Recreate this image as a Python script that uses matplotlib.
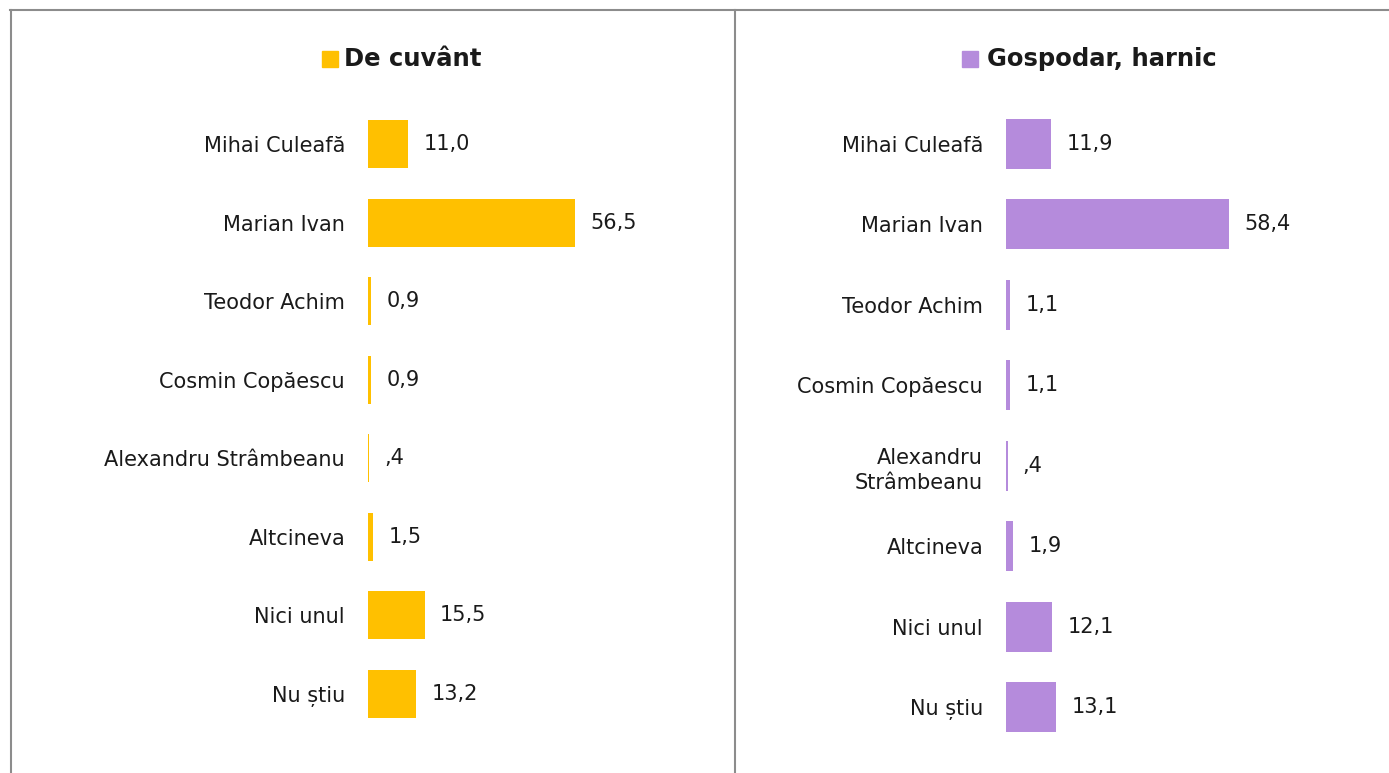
import matplotlib.pyplot as plt
from matplotlib.lines import Line2D
from matplotlib.patches import Rectangle

# ---- data ----
candidates_left = [
    "Mihai Culeafă", "Marian Ivan", "Teodor Achim", "Cosmin Copăescu",
    "Alexandru Strâmbeanu", "Altcineva", "Nici unul", "Nu știu",
]
candidates_right = [
    "Mihai Culeafă", "Marian Ivan", "Teodor Achim", "Cosmin Copăescu",
    "Alexandru\nStrâmbeanu", "Altcineva", "Nici unul", "Nu știu",
]
de_cuvant = [11.0, 56.5, 0.9, 0.9, 0.4, 1.5, 15.5, 13.2]
de_cuvant_labels = ["11,0", "56,5", "0,9", "0,9", ",4", "1,5", "15,5", "13,2"]
gospodar = [11.9, 58.4, 1.1, 1.1, 0.4, 1.9, 12.1, 13.1]
gospodar_labels = ["11,9", "58,4", "1,1", "1,1", ",4", "1,9", "12,1", "13,1"]

W, H = 1389, 773
TEXT = "#1a1a1a"
BORDER = "#8c8c8c"

plt.rcParams["font.family"] = ["DejaVu Sans"]

fig = plt.figure(figsize=(W / 100, H / 100), dpi=100)


def px_axes(left, top, right, bottom):
    """Add axes from pixel coords (origin top-left)."""
    return fig.add_axes([left / W, 1 - bottom / H, (right - left) / W, (bottom - top) / H])


def draw_panel(ax, names, values, labels, color, px_per_unit, width_px, bar_h):
    y = range(len(names))
    ax.barh(y, values, height=bar_h, color=color)
    ax.set_xlim(0, width_px / px_per_unit)
    ax.set_ylim(len(names) - 0.5, -0.5)
    ax.set_yticks(list(y))
    ax.set_yticklabels(names, fontsize=15, color=TEXT, linespacing=1.35)
    ax.tick_params(axis="y", length=0, pad=16.5)
    ax.set_xticks([])
    for s in ax.spines.values():
        s.set_visible(False)
    for i, (v, lab) in enumerate(zip(values, labels)):
        ax.annotate(lab, (v, i), xytext=(11, 0), textcoords="offset points",
                    va="center", ha="left", fontsize=15, color=TEXT)


# left panel: bar centres y=144..694, bars start at x=368
sp_l = (694 - 144) / 7
ax1 = px_axes(368, 144 - sp_l / 2, 700, 694 + sp_l / 2)
draw_panel(ax1, candidates_left, de_cuvant, de_cuvant_labels,
           "#FFC000", 3.66, 700 - 368, 48 / sp_l)

# right panel: bar centres y=144..707, bars start at x=1006
sp_r = (707 - 144) / 7
ax2 = px_axes(1006, 144 - sp_r / 2, 1380, 707 + sp_r / 2)
draw_panel(ax2, candidates_right, gospodar, gospodar_labels,
           "#B58BDC", 3.82, 1380 - 1006, 50 / sp_r)

# titles with square markers
for sq_x, tx, title, color in [(322, 344, "De cuvânt", "#FFC000"),
                               (962, 987, "Gospodar, harnic", "#B58BDC")]:
    fig.patches.append(Rectangle((sq_x / W, 1 - 67 / H), 16 / W, 16 / H,
                                 transform=fig.transFigure, color=color))
    fig.text(tx / W, 1 - 59 / H, title, fontsize=17.5, fontweight="bold",
             color=TEXT, va="center", ha="left")

# frame lines
fig.add_artist(Line2D([10 / W, 1], [1 - 9.5 / H] * 2, color=BORDER, lw=1.5,
                      transform=fig.transFigure))
fig.add_artist(Line2D([10.5 / W] * 2, [0, 1 - 9.5 / H], color=BORDER, lw=1.5,
                      transform=fig.transFigure))
fig.add_artist(Line2D([734.5 / W] * 2, [0, 1 - 9.5 / H], color=BORDER, lw=1.5,
                      transform=fig.transFigure))

fig.savefig("out.png", dpi=100)
